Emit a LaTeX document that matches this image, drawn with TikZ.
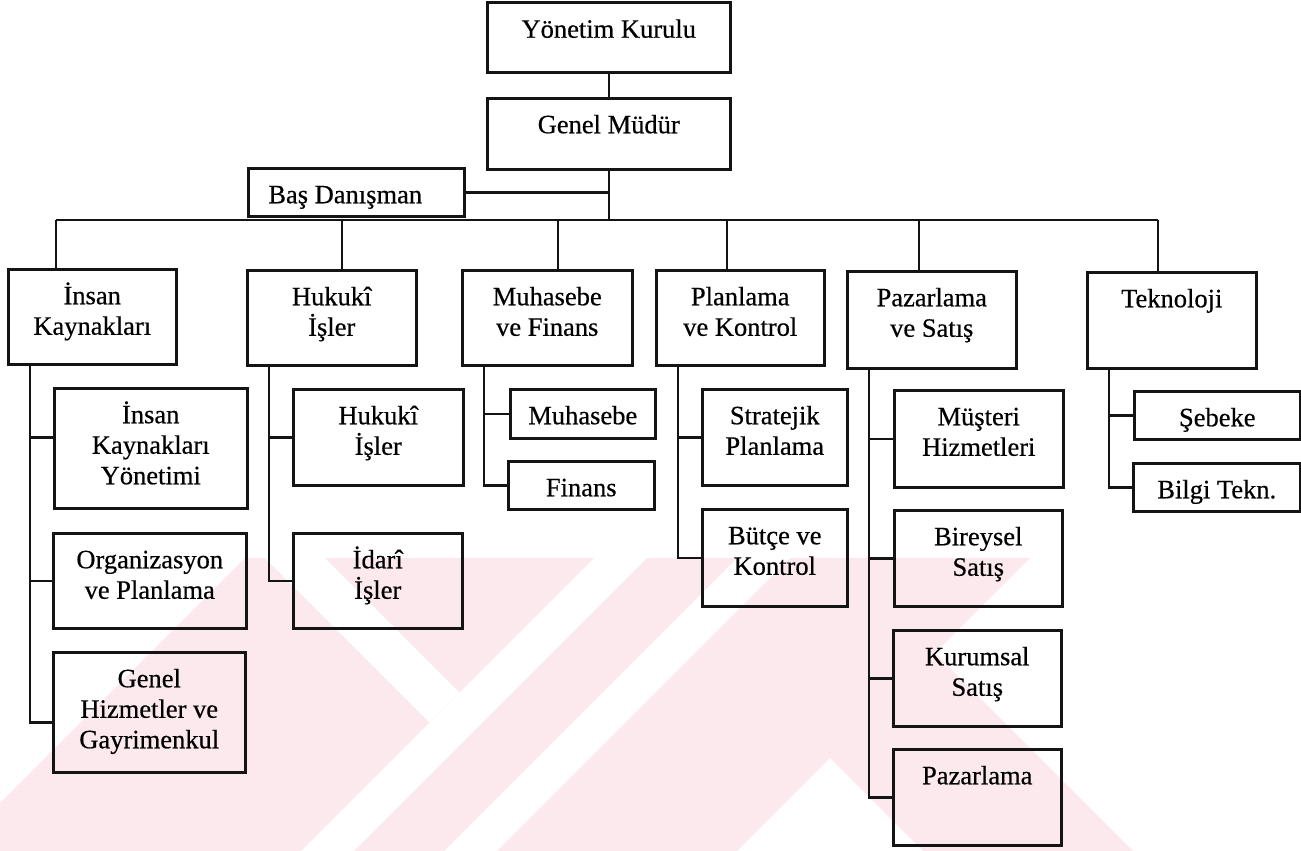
\documentclass[tikz,border=0pt]{standalone}
\usepackage{fontspec}
\setmainfont{Liberation Serif}[FakeBold=0.5]
\usepackage{tikz}
\definecolor{OrgLine}{RGB}{20,20,20}
\definecolor{MarkPink}{RGB}{252,233,238}
\newcommand{\birim}[6]{%
    \node[birim] (#1) at (#2,#3) {\parbox[c][#5pt][t]{#4pt}{\centering\rule{0pt}{35pt}#6}};
}
\newcommand{\serit}[2]{%
    \fill[MarkPink] (#1,558) -- (#2,558) -- ({#2-293},851) -- ({#1-293},851) -- cycle;
}

\begin{document}
\begin{tikzpicture}[x=1pt,y=-1pt,
        birim/.style={draw=OrgLine,line width=2.5pt,inner sep=0pt,anchor=north west,
            font=\fontsize{26.5}{30.5}\selectfont},
        hat/.style={draw=OrgLine,line width=2.5pt}]
    \useasboundingbox (0,0) rectangle (1301,851);
    \serit{245}{594}
    \serit{647}{737}
    \serit{790}{1030}
    \fill[MarkPink] (722,650) -- (932,650) -- (1133,851) -- (923,851) -- cycle;
    \begin{scope}
        \clip (245,558) -- (594,558) -- (301,851) -- (-48,851) -- cycle;
        \fill[white] (265,558) -- (325,558) -- (618,851) -- (558,851) -- cycle;
    \end{scope}
    \birim{yk}{486}{1.5}{243}{70}{Yönetim Kurulu}
    \birim{gm}{486}{97}{243}{71}{Genel Müdür}
    \birim{bd}{247}{167}{216}{48}{\hspace*{-22pt}Baş Danışman}
    \birim{ik}{7}{268}{168}{95}{İnsan\\Kaynakları}
    \birim{hi}{246}{269}{169}{95}{Hukukî\\İşler}
    \birim{mf}{461}{269}{170}{95}{Muhasebe\\ve Finans}
    \birim{pk}{655}{269}{168}{95}{Planlama\\ve Kontrol}
    \birim{ps}{846}{270}{169}{97}{Pazarlama\\ve Satış}
    \birim{tk}{1086}{271}{169}{96}{Teknoloji}
    \birim{iky}{53}{387}{193}{120}{İnsan\\Kaynakları\\Yönetimi}
    \birim{org}{52}{532}{193}{95}{Organizasyon\\ve Planlama}
    \birim{ghg}{52}{651}{192}{120}{Genel\\Hizmetler ve\\Gayrimenkul}
    \birim{hki}{292}{388}{170}{96}{Hukukî\\İşler}
    \birim{idr}{292}{532}{169}{95}{İdarî\\İşler}
    \birim{muh}{509}{388}{145}{49}{Muhasebe}
    \birim{fin}{507}{460}{146}{48}{Finans}
    \birim{str}{701}{388}{145}{96}{Stratejik\\Planlama}
    \birim{but}{701}{508}{145}{97}{Bütçe ve\\Kontrol}
    \birim{mus}{893}{389}{169}{97}{Müşteri\\Hizmetleri}
    \birim{bir}{893}{509}{168}{96}{Bireysel\\Satış}
    \birim{kur}{892}{629}{168}{96}{Kurumsal\\Satış}
    \birim{paz}{892}{748}{168}{96}{Pazarlama}
    \birim{seb}{1133}{390}{166}{48}{Şebeke}
    \birim{bil}{1132}{462}{167}{48}{Bilgi Tekn.}

    \draw[hat] (yk.south) -- (gm.north);
    \coordinate (busL) at (56,220);
    \coordinate (busR) at (1158,220);
    \draw[hat] (gm.south) -- (gm.south |- busL);
    \draw[hat] (bd.east) -- (bd.east -| gm.south);
    \draw[hat] (busL) -- (busR);
    \foreach \k/\x in {ik/56,hi/342,mf/558,pk/727,ps/919,tk/1158} {
        \coordinate (b-\k) at (\x,220);
        \draw[hat] (b-\k) -- (b-\k |- \k.north);
    }
    \draw[hat] ([xshift=23pt]ik.south west) |- ([yshift=11pt]iky.west);
    \draw[hat] ([xshift=23pt]ik.south west) |- ([yshift=-10pt]ghg.west);
    \foreach \p/\c in {ik/org,hi/hki,hi/idr,mf/muh,mf/fin,pk/str,pk/but,
            ps/mus,ps/bir,ps/kur,ps/paz,tk/seb,tk/bil}
        \draw[hat] ([xshift=23pt]\p.south west) |- (\c.west);
\end{tikzpicture}
\end{document}
